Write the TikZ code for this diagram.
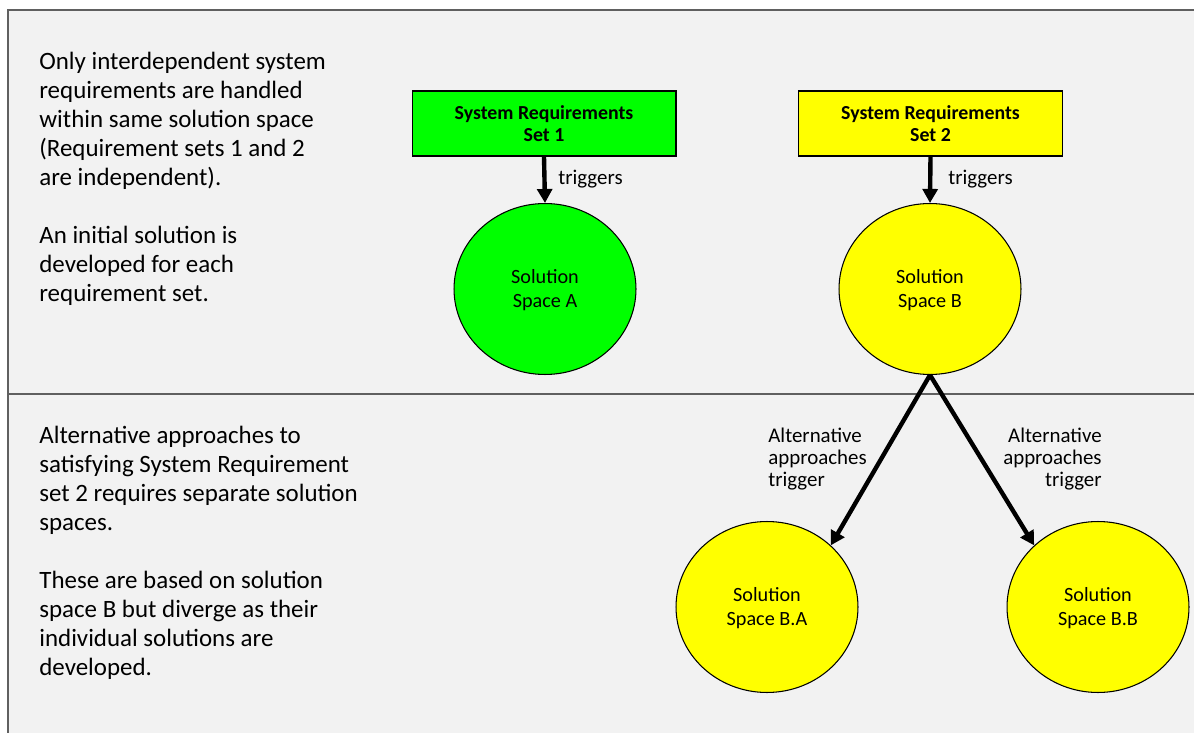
\documentclass[tikz,border=0pt]{standalone}
\usepackage{fontspec}
\setmainfont{Carlito}
\usetikzlibrary{shapes.geometric,arrows.meta}
\definecolor{panel}{HTML}{F2F2F2}
\definecolor{rule}{HTML}{606060}
\definecolor{reqgreen}{HTML}{00FF00}
\definecolor{reqyellow}{HTML}{FFFF00}
\begin{document}
\begin{tikzpicture}[x=0.02cm,y=-0.02cm,
  note/.style={anchor=west,inner sep=0pt,align=left,font=\fontsize{14.2}{16.5}\selectfont},
  reqbox/.style={draw=black,line width=0.6pt,minimum width=5.28cm,minimum height=1.3cm,
    align=center,inner sep=0pt,font=\fontsize{11.3}{12.6}\selectfont\bfseries},
  space/.style={ellipse,draw=black,line width=0.6pt,minimum width=3.64cm,minimum height=3.42cm,
    inner sep=0pt,align=center,font=\fontsize{11.5}{13.7}\selectfont},
  flow/.style={line width=2.5pt,-{Triangle[length=8pt,width=8.5pt]}},
  lbl/.style={inner sep=0pt,font=\fontsize{11.9}{12.5}\selectfont}]
\useasboundingbox (0,0) rectangle (1194,733);
% panel background and frame
\fill[panel] (8,10) rectangle (1194,733);
\draw[rule,line width=1.2pt] (8,733) -- (8,10) -- (1194,10);
\draw[rule,line width=1.2pt] (8,394) -- (1194,394);

% explanatory notes
\node[note] (n1) at (39,179) {Only interdependent system\\requirements are handled\\within same solution space\\(Requirement sets 1 and 2\\are independent).\\[16.5pt]An initial solution is\\developed for each\\requirement set.};
\node[note] (n2) at (39,552.5) {Alternative approaches to\\satisfying System Requirement\\set 2 requires separate solution\\spaces.\\[16.5pt]These are based on solution\\space B but diverge as their\\individual solutions are\\developed.};

% requirement sets
\node[reqbox,fill=reqgreen] (req1) at (544,123.5) {System Requirements\\Set 1};
\node[reqbox,fill=reqyellow] (req2) at (930.5,123.5) {System Requirements\\Set 2};

% solution spaces
\node[space,fill=reqgreen] (solA) at (545,289) {\strut Solution\\Space A};
\node[space,fill=reqyellow] (solB) at (930,289) {\strut Solution\\Space B};
\node[space,fill=reqyellow] (solBA) at (767,607) {\strut Solution\\Space B.A};
\node[space,fill=reqyellow] (solBB) at (1098,607) {\strut Solution\\Space B.B};

% connectors
\draw[flow] (req1.south) -- (solA.north);
\draw[flow] (req2.south) -- (solB.north);
\draw[flow] (solB.south) -- (solBA.44);
\draw[flow] (solB.south) -- (solBB.136);

% connector labels
\node[lbl,anchor=west] (t1) at (558,179) {triggers};
\node[lbl,anchor=west] (t2) at (948,179) {triggers};
\node[lbl,anchor=west,align=left] (alt1) at (768,459) {Alternative\\approaches\\trigger};
\node[lbl,anchor=east,align=right] (alt2) at (1102,459) {Alternative\\approaches\\trigger};
\end{tikzpicture}
\end{document}
